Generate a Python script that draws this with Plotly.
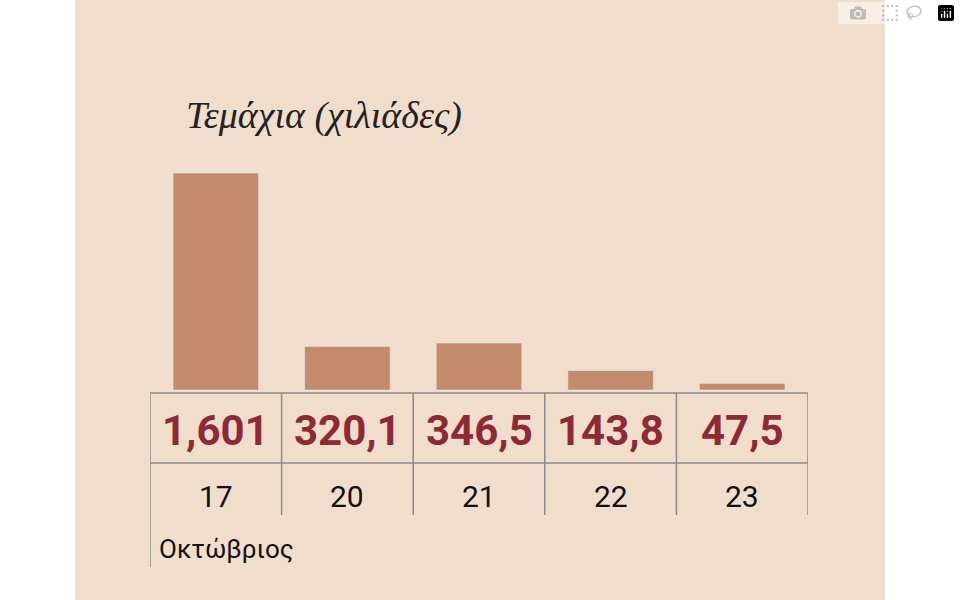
import plotly.graph_objects as go

days = ["17", "20", "21", "22", "23"]
values = [1601, 320.1, 346.5, 143.8, 47.5]
value_labels = ["1,601", "320,1", "346,5", "143,8", "47,5"]
title = "Τεμάχια (χιλιάδες)"
month = "Οκτώβριος"

L, R, T, B = 150, 152, 100, 33
H = 600 - T - B
upp = 1601 / 217.0  # units per pixel
ymin = -177 * upp
ymax = ymin + H * upp
def py(px):  # pixels below zero line -> data
    return -px * upp

xs = list(range(len(days)))
fig = go.Figure(go.Bar(x=xs, y=values, marker_color="#C48A6C", width=0.65, hoverinfo="skip"))

shapes = [dict(type="rect", xref="paper", yref="paper", x0=(75-L)/658, x1=(885-L)/658,
               y0=-1, y1=2, fillcolor="#F1DDCC", line_width=0, layer="below")]
lc = dict(color="#8a8a8a", width=1.5)
shapes.append(dict(type="line", xref="x", yref="y", x0=-0.5, x1=4.5, y0=py(3), y1=py(3), line=lc))
shapes.append(dict(type="line", xref="x", yref="y", x0=-0.5, x1=4.5, y0=py(73), y1=py(73), line=lc))
for i in range(len(days) + 1):
    y1 = py(177) if i == 0 else py(125)
    shapes.append(dict(type="line", xref="x", yref="y", x0=i-0.5, x1=i-0.5, y0=py(3), y1=y1, line=lc))

ann = [dict(x=-0.24, xref="x", y=py(-275), yref="y", text="<i>" + title + "</i>", showarrow=False,
            xanchor="left", font=dict(family="Liberation Serif", size=38, color="#222"))]
for i, (d, v) in enumerate(zip(days, value_labels)):
    ann.append(dict(x=i, y=py(40), xref="x", yref="y", text="<b>" + v + "</b>", showarrow=False,
                    font=dict(family="Liberation Sans Narrow, Roboto", size=42, color="#8E2A36")))
    ann.append(dict(x=i, y=py(106), xref="x", yref="y", text=d, showarrow=False,
                    font=dict(family="Liberation Sans Narrow, Roboto", size=30, color="#111")))
ann.append(dict(x=-0.45, y=py(159), xref="x", yref="y", text=month, showarrow=False, xanchor="left",
                font=dict(family="Liberation Sans Narrow, Roboto", size=26, color="#111")))

fig.update_layout(width=960, height=600, margin=dict(l=L, r=R, t=T, b=B),
                  paper_bgcolor="white", plot_bgcolor="rgba(0,0,0,0)", showlegend=False,
                  xaxis=dict(range=[-0.5, 4.5], visible=False, fixedrange=True),
                  yaxis=dict(range=[ymin, ymax], visible=False, fixedrange=True),
                  shapes=shapes, annotations=ann)
fig.write_html("out.html", post_script="document.body.style.margin='0';document.body.style.padding='0';")
